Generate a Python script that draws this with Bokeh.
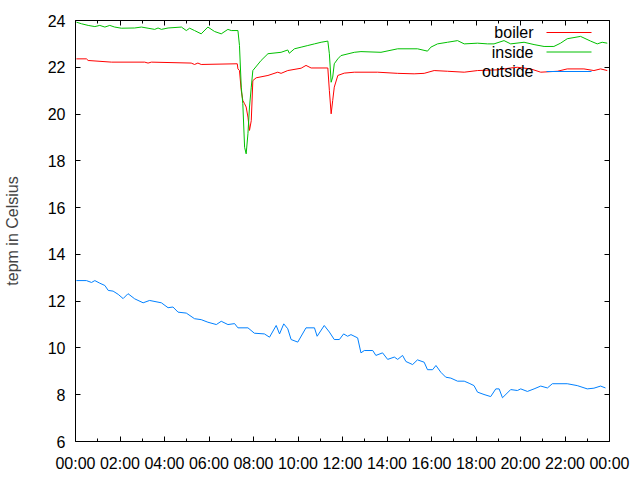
from bokeh.plotting import figure
from bokeh.models import Range1d, FixedTicker, LinearAxis, Label, Arrow
from bokeh.embed import file_html
from bokeh.resources import INLINE

# ---- data (hours since midnight, degrees Celsius) ----
boiler_h = [0.04, 0.49, 0.57, 1.62, 3.11, 3.26, 3.41, 5.20, 5.35, 5.50, 5.65, 7.27,
            7.30, 7.37, 7.45, 7.52, 7.60, 7.67, 7.75, 7.82, 7.90, 7.97, 8.12, 8.65,
            9.09, 9.24, 9.54, 10.14, 10.36, 10.59, 11.34, 11.41, 11.49, 11.56, 11.63,
            11.79, 12.08, 12.53, 13.58, 14.48, 15.22, 15.67, 16.12, 16.72, 17.47,
            18.07, 18.96, 19.56, 19.86, 20.46, 20.91, 21.66, 22.10, 22.85, 23.30,
            23.60, 23.90]
boiler_t = [22.36, 22.36, 22.29, 22.22, 22.22, 22.18, 22.22, 22.18, 22.12, 22.18, 22.12, 22.15,
            21.93, 21.86, 21.01, 20.58, 20.44, 20.30, 19.87, 19.30, 19.72, 21.43, 21.55, 21.65,
            21.79, 21.74, 21.86, 21.96, 22.08, 21.97, 21.97, 21.01, 20.01, 20.58, 21.15,
            21.65, 21.75, 21.79, 21.79, 21.74, 21.72, 21.74, 21.86, 21.83, 21.79,
            21.86, 21.89, 21.97, 22.00, 21.93, 21.79, 21.83, 21.93, 21.93, 21.86,
            21.93, 21.86]

inside_h = [0.04, 0.27, 0.57, 0.87, 1.09, 1.32, 1.54, 1.76, 2.06, 2.66, 2.96, 3.26, 3.56,
            3.71, 3.86, 4.16, 4.76, 4.98, 5.13, 5.35, 5.65, 5.95, 6.25, 6.55, 6.85, 7.00,
            7.30, 7.37, 7.45, 7.52, 7.60, 7.67, 7.75, 7.82, 7.90, 7.97, 8.34, 8.65, 9.24,
            9.54, 9.61, 9.84, 10.14, 10.44, 10.74, 11.04, 11.34, 11.41, 11.49, 11.56,
            11.63, 11.79, 11.93, 12.53, 12.83, 13.73, 14.48, 15.37, 15.82, 15.97, 16.27,
            16.72, 17.17, 17.47, 18.07, 18.52, 18.81, 19.26, 19.56, 20.16, 20.61, 21.06,
            21.50, 21.80, 22.10, 22.70, 23.15, 23.45, 23.67, 23.90]
inside_t = [23.93, 23.86, 23.79, 23.74, 23.79, 23.72, 23.79, 23.72, 23.67, 23.68, 23.72, 23.67, 23.62,
            23.68, 23.62, 23.68, 23.72, 23.57, 23.67, 23.57, 23.43, 23.72, 23.53, 23.43, 23.62, 23.57,
            23.57, 22.93, 21.15, 20.44, 18.58, 18.30, 19.16, 20.30, 21.15, 21.86, 22.29, 22.58, 22.64,
            22.74, 22.60, 22.79, 22.86, 22.93, 23.00, 23.07, 23.12, 22.58, 21.36, 21.58,
            22.15, 22.36, 22.50, 22.64, 22.67, 22.64, 22.79, 22.79, 22.69, 22.86, 23.00,
            23.07, 23.14, 23.00, 23.03, 23.00, 23.00, 23.14, 23.00, 23.07, 22.97, 22.89,
            22.89, 23.03, 23.22, 23.32, 23.12, 23.00, 23.07, 23.03]

outside_h = [0.04, 0.49, 0.72, 0.87, 1.09, 1.32, 1.47, 1.69, 1.92, 2.14, 2.36, 2.66, 3.04,
             3.33, 3.86, 4.16, 4.38, 4.61, 4.98, 5.35, 5.65, 5.95, 6.33, 6.55, 6.85, 7.15,
             7.30, 7.75, 8.04, 8.49, 8.72, 9.02, 9.17, 9.36, 9.54, 9.69, 9.99, 10.36, 10.74,
             10.86, 11.18, 11.41, 11.63, 11.86, 12.05, 12.23, 12.38, 12.68, 12.83, 12.98,
             13.36, 13.50, 13.80, 14.03, 14.33, 14.48, 14.70, 14.85, 15.15, 15.37, 15.67,
             15.82, 16.05, 16.20, 16.42, 16.64, 16.87, 17.17, 17.47, 17.69, 17.91, 18.07,
             18.36, 18.66, 18.89, 19.04, 19.19, 19.56, 19.86, 20.01, 20.31, 20.61, 20.91,
             21.21, 21.43, 22.10, 22.55, 23.00, 23.30, 23.60, 23.82]
outside_t = [12.88, 12.88, 12.80, 12.88, 12.77, 12.67, 12.46, 12.43, 12.29, 12.11, 12.32, 12.10, 11.93,
             12.03, 11.93, 11.72, 11.75, 11.53, 11.49, 11.25, 11.21, 11.10, 11.00, 11.14, 11.00, 11.04,
             10.86, 10.86, 10.63, 10.60, 10.46, 10.96, 10.60, 11.03, 10.82, 10.36, 10.25, 10.86, 10.86,
             10.50, 10.96, 10.68, 10.36, 10.36, 10.60, 10.50, 10.57, 10.43, 9.79, 9.89,
             9.89, 9.68, 9.79, 9.51, 9.61, 9.51, 9.68, 9.42, 9.29, 9.49, 9.39,
             9.07, 9.07, 9.25, 8.96, 8.75, 8.71, 8.58, 8.58, 8.49, 8.39, 8.11,
             8.01, 7.92, 8.25, 8.25, 7.87, 8.22, 8.18, 8.25, 8.14, 8.25, 8.37,
             8.29, 8.47, 8.47, 8.39, 8.25, 8.28, 8.37, 8.29]

x_ticks = [0, 2, 4, 6, 8, 10, 12, 14, 16, 18, 20, 22, 24]
x_minor = [1, 3, 5, 7, 9, 11, 13, 15, 17, 19, 21, 23]
x_labels = ["00:00", "02:00", "04:00", "06:00", "08:00", "10:00", "12:00",
            "14:00", "16:00", "18:00", "20:00", "22:00", "00:00"]
y_ticks = [6, 8, 10, 12, 14, 16, 18, 20, 22, 24]

series_names = ["boiler", "inside", "outside"]
series_colors = ["#ff0000", "#00c000", "#0080ff"]

FONT = "Liberation Sans"

p = figure(width=640, height=480, output_backend="svg", toolbar_location=None,
           x_range=Range1d(0, 24), y_range=Range1d(6, 24),
           min_border_left=74, min_border_right=31, min_border_top=20, min_border_bottom=39,
           x_axis_type=None, y_axis_type=None)
p.grid.visible = False
p.outline_line_color = "black"
p.outline_line_width = 1
p.background_fill_color = "white"
p.border_fill_color = "white"

xt = FixedTicker(ticks=x_ticks, minor_ticks=x_minor)
yt = FixedTicker(ticks=y_ticks, minor_ticks=[])


def style_axis(ax, show_labels):
    ax.major_tick_in = 5
    ax.major_tick_out = 0
    ax.minor_tick_in = 3
    ax.minor_tick_out = 0
    ax.major_tick_line_color = "black"
    ax.minor_tick_line_color = "black"
    ax.axis_line_color = None
    ax.major_label_text_font = FONT
    if show_labels:
        ax.major_label_text_font_size = "16px"
        ax.major_label_text_color = "#000000"
        ax.major_label_standoff = 12
    else:
        # mirrored tick marks only, no tick texts
        ax.major_label_text_font_size = "1px"
        ax.major_label_text_color = None
        ax.major_label_standoff = 0


xb = LinearAxis(ticker=xt, major_label_overrides={t: l for t, l in zip(x_ticks, x_labels)})
style_axis(xb, True)
xb.major_label_standoff = 13
p.add_layout(xb, "below")

xtop = LinearAxis(ticker=xt)
style_axis(xtop, False)
p.add_layout(xtop, "above")

yl = LinearAxis(ticker=yt, axis_label="tepm in Celsius")
style_axis(yl, True)
yl.major_label_standoff = 10
yl.axis_label_text_font = FONT
yl.axis_label_text_font_size = "16px"
yl.axis_label_text_font_style = "normal"
yl.axis_label_standoff = 24
p.add_layout(yl, "left")

yr = LinearAxis(ticker=yt)
style_axis(yr, False)
p.add_layout(yr, "right")

for (hh, tt), c in zip([(boiler_h, boiler_t), (inside_h, inside_t), (outside_h, outside_t)],
                       series_colors):
    p.line(hh, tt, line_color=c, line_width=1)

# gnuplot-style key: label on the left, sample line on the right
for i, (name, c) in enumerate(zip(series_names, series_colors)):
    sy = 409 - i * 19.5
    p.add_layout(Label(x=458, y=sy, x_units="screen", y_units="screen", text=name,
                       text_align="right", text_baseline="middle",
                       text_font=FONT, text_font_size="16px", text_color="black"))
    p.add_layout(Arrow(x_start=471, y_start=sy, x_end=516, y_end=sy,
                       start_units="screen", end_units="screen",
                       start=None, end=None, line_color=c, line_width=1))

open("out.html", "w").write(file_html(p, INLINE))
